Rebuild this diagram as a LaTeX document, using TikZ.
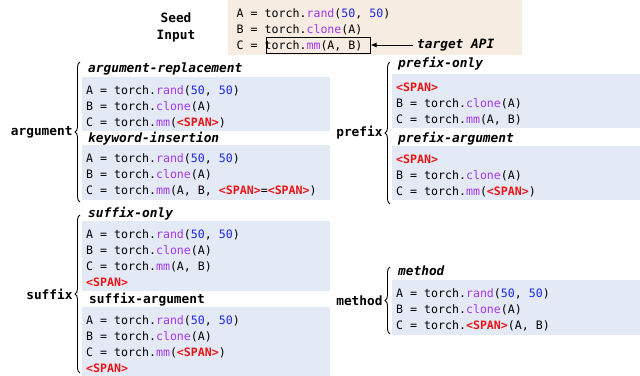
\documentclass[tikz,border=0pt]{standalone}
\usepackage{fontspec}
\setmonofont{DejaVu Sans Mono}
\usetikzlibrary{decorations.pathreplacing,arrows.meta}
\definecolor{seedbg}{RGB}{246,236,225}
\definecolor{codebg}{RGB}{227,234,246}
\definecolor{fncol}{RGB}{165,55,240}
\definecolor{numcol}{RGB}{30,40,230}
\definecolor{spancol}{RGB}{235,20,20}
\newcommand\fn[1]{\textcolor{fncol}{#1}}
\newcommand\cn[1]{\textcolor{numcol}{#1}}
\newcommand\SPAN{\textcolor{spancol}{\bfseries<SPAN>}}
\newcommand\lineA{A = torch.\fn{rand}(\cn{50}, \cn{50})}
\newcommand\lineB{B = torch.\fn{clone}(A)}
\newcommand\codefont{\ttfamily\fontsize{11.6}{16}\selectfont}
\newcommand\labelfont{\ttfamily\bfseries\fontsize{12.8}{17}\selectfont}
\tikzset{
  code/.style={anchor=north west, fill=codebg, minimum width=248pt, text width=240pt,
    inner xsep=4pt, align=flush left, font=\codefont,
    execute at begin node={\rule{0pt}{13.5pt}}},
  title/.style={anchor=west, inner sep=0pt, font=\labelfont\itshape},
  group/.style={anchor=east, inner sep=0pt, font=\labelfont},
  curly/.style={decorate, decoration={brace, amplitude=5pt}, line width=0.9pt}
}

\begin{document}
\begin{tikzpicture}[x=1pt,y=-1pt]
	\useasboundingbox (0,0) rectangle (640,375);
	% seed input
	\node[code, fill=seedbg, minimum width=294pt, text width=277pt, inner xsep=8.5pt, minimum height=55pt] (seed) at (228,0)
		{\lineA\\ \lineB\\ C = torch.\fn{mm}(A, B)};
	\node[group, anchor=center, align=flush center] (seedlbl) at (176,27) {Seed\\Input};
	\node[draw, line width=1pt, minimum width=104pt, minimum height=16pt] (api) at (318,45) {};
	\node[title] (tgt) at (417,45) {target API};
	\draw[-{Latex[length=6pt,width=5pt]}, line width=1pt, shorten <=4pt] (tgt.west) -- (api.east);
	% argument
	\node[title] (argreplbl) at (88,69) {argument-replacement};
	\node[code, minimum height=54pt] (argrep) at (82,77)
		{\lineA\\ \lineB\\ C = torch.\fn{mm}(\SPAN)};
	\node[title] (kwinslbl) at (88,139) {keyword-insertion};
	\node[code, minimum height=55pt] (kwins) at (82,145)
		{\lineA\\ \lineB\\ C = torch.\fn{mm}(A, B, \SPAN=\SPAN)};
	\draw[curly] (80,202) -- (80,62) node[group, midway, xshift=-7pt] (arglbl) {argument};
	% suffix
	\node[title] (sufonlylbl) at (88,214) {suffix-only};
	\node[title, font=\labelfont] (sufarglbl) at (89,300) {suffix-argument};
	\node[code, minimum height=70pt] (sufonly) at (82,221)
		{\lineA\\ \lineB\\ C = torch.\fn{mm}(A, B)\\ \SPAN};
	\node[code, minimum height=70pt] (sufarg) at (82,307)
		{\lineA\\ \lineB\\ C = torch.\fn{mm}(\SPAN)\\ \SPAN};
	\draw[curly] (80,373) -- (80,215) node[group, midway, xshift=-7pt] (suflbl) {suffix};
	% prefix
	\node[title] (preonlylbl) at (398,64) {prefix-only};
	\node[code, minimum height=54pt] (preonly) at (392,74)
		{\SPAN\\ \lineB\\ C = torch.\fn{mm}(A, B)};
	\node[title] (prearglbl) at (398,139) {prefix-argument};
	\node[code, minimum height=54pt] (prearg) at (392,146)
		{\SPAN\\ \lineB\\ C = torch.\fn{mm}(\SPAN)};
	\draw[curly] (390,204) -- (390,62) node[group, midway, xshift=-7pt] (prelbl) {prefix};
	% method
	\node[title] (methlbl) at (398,271) {method};
	\node[code, minimum height=55pt] (meth) at (392,280)
		{\lineA\\ \lineB\\ C = torch.\SPAN(A, B)};
	\draw[curly] (390,334) -- (390,267) node[group, midway, xshift=-7pt] (methgrp) {method};
\end{tikzpicture}
\end{document}
